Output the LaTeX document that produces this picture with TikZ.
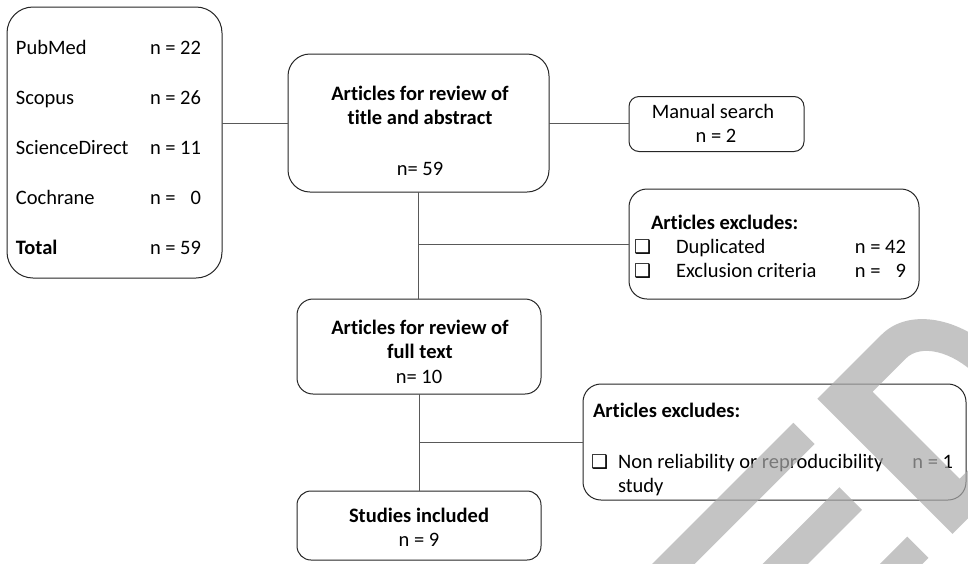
\documentclass[tikz,border=0pt]{standalone}
\usepackage{fontspec}
\setmainfont{Carlito}[Ligatures=NoCommon]
\newfontfamily\symfont{DejaVu Sans}
\begin{document}
\begin{tikzpicture}[x=1pt,y=1pt,
  box/.style={draw=black!85, line width=1pt, fill=white, inner sep=0pt, outer sep=0pt},
  conn/.style={draw=black!65, line width=0.9pt},
  txt/.style={inner sep=0pt, outer sep=0pt, font=\fontsize{20.5}{24.5}\selectfont},
  btxt/.style={inner sep=0pt, outer sep=0pt, font=\fontsize{20.5}{24.5}\selectfont\bfseries},
  chk/.style={inner sep=0pt, outer sep=0pt, font=\symfont\fontsize{19}{22}\selectfont},
  wm/.style={fill={rgb,255:red,172;green,172;blue,172}, fill opacity=0.7}
]
\useasboundingbox (0,0) rectangle (968,-563);
\fill[white] (0,0) rectangle (968,-563);

% boxes
\node[box, rounded corners=26pt, minimum width=215pt, minimum height=271pt] (src) at (114.5,-142.5) {};
\node[box, rounded corners=22pt, minimum width=261pt, minimum height=138pt] (rev) at (418.5,-123) {};
\node[box, rounded corners=10pt, minimum width=175pt, minimum height=55pt] (man) at (716.5,-124) {};
\node[box, rounded corners=18pt, minimum width=290pt, minimum height=110pt] (exc1) at (774,-244) {};
\node[box, rounded corners=16pt, minimum width=244pt, minimum height=95pt] (full) at (419,-346.5) {};
\node[box, rounded corners=18pt, minimum width=383pt, minimum height=116pt] (exc2) at (774.5,-442) {};
\node[box, rounded corners=14pt, minimum width=244pt, minimum height=69pt] (inc) at (419,-525.5) {};

% connectors
\draw[conn] (rev.west) -- (rev.west -| src.east);
\draw[conn] (rev.east) -- (rev.east -| man.west);
\draw[conn] (rev.south) -- (rev.south |- full.north);
\draw[conn] (exc1.west -| rev.south) -- (exc1.west);
\draw[conn] (full.south) -- (full.south |- inc.north);
\draw[conn] (exc2.west -| full.south) -- (exc2.west);

% source box texts
\node[txt, anchor=base west] (t1) at (16,-54.5) {PubMed};
\node[txt, anchor=base west] (t2) at (16,-104.5) {Scopus};
\node[txt, anchor=base west] (t3) at (16,-154.5) {ScienceDirect};
\node[txt, anchor=base west] (t4) at (16,-204.5) {Cochrane};
\node[btxt, anchor=base west] (t5) at (16,-254.5) {Total};
\node[txt, anchor=base west] (n1) at (150,-54.5) {n = 22};
\node[txt, anchor=base west] (n2) at (150,-104.5) {n = 26};
\node[txt, anchor=base west] (n3) at (150,-154.5) {n = 11};
\node[txt, anchor=base west] (n4) at (150,-204.5) {n = \hphantom{0}0};
\node[txt, anchor=base west] (n5) at (150,-254.5) {n = 59};

% review box
\node[btxt, anchor=base] (r1) at (420,-100) {Articles for review of};
\node[btxt, anchor=base] (r2) at (420,-124.5) {title and abstract};
\node[txt, anchor=base] (r3) at (420,-175) {n= 59};

% manual search
\node[txt, anchor=base] (m1) at (713,-118) {Manual search};
\node[txt, anchor=base] (m2) at (716,-142) {n = 2};

% excludes 1
\node[btxt, anchor=base west] (e1) at (651,-229) {Articles excludes:};
\node[chk, anchor=base west] (c1) at (634,-253) {❑};
\node[txt, anchor=base west] (e2) at (676,-253) {Duplicated};
\node[txt, anchor=base east] (e3) at (906,-253) {n = 42};
\node[chk, anchor=base west] (c2) at (634,-277) {❑};
\node[txt, anchor=base west] (e4) at (676,-277) {Exclusion criteria};
\node[txt, anchor=base east] (e5) at (906,-277) {n = \hphantom{0}9};

% full text box
\node[btxt, anchor=base] (f1) at (420,-334) {Articles for review of};
\node[btxt, anchor=base] (f2) at (420,-358.5) {full text};
\node[txt, anchor=base] (f3) at (419,-383) {n= 10};

% excludes 2
\node[btxt, anchor=base west] (x1) at (593,-417) {Articles excludes:};
\node[chk, anchor=base west] (c3) at (591,-468) {❑};
\node[txt, anchor=base west] (x2) at (618,-468) {Non reliability or reproducibility};
\node[txt, anchor=base east] (x3) at (953,-468) {n = 1};
\node[txt, anchor=base west] (x4) at (618,-492) {study};

% included
\node[btxt, anchor=base] (i1) at (419,-522) {Studies included};
\node[txt, anchor=base] (i2) at (419,-546) {n = 9};

% watermark
\begin{scope}
\clip (0,0) rectangle (968,-563);
\begin{scope}[rotate=45]
\fill[wm] (10,-860) -- (262,-860) -- (262,-890) -- (54,-890) -- (54,-938) -- (249,-938)
  -- (249,-970) -- (54,-970) -- (54,-1021) -- (262,-1021) -- (262,-1051) -- (10,-1051) -- cycle;
\fill[wm, even odd rule] (296,-860) -- (387,-860) arc[start angle=90, end angle=-90, x radius=68, y radius=95.5]
  -- (296,-1051) -- cycle
  (340,-894) -- (387,-894) arc[start angle=90, end angle=-90, x radius=38, y radius=61.5]
  -- (340,-1017) -- cycle;
\end{scope}
\end{scope}
\end{tikzpicture}
\end{document}
